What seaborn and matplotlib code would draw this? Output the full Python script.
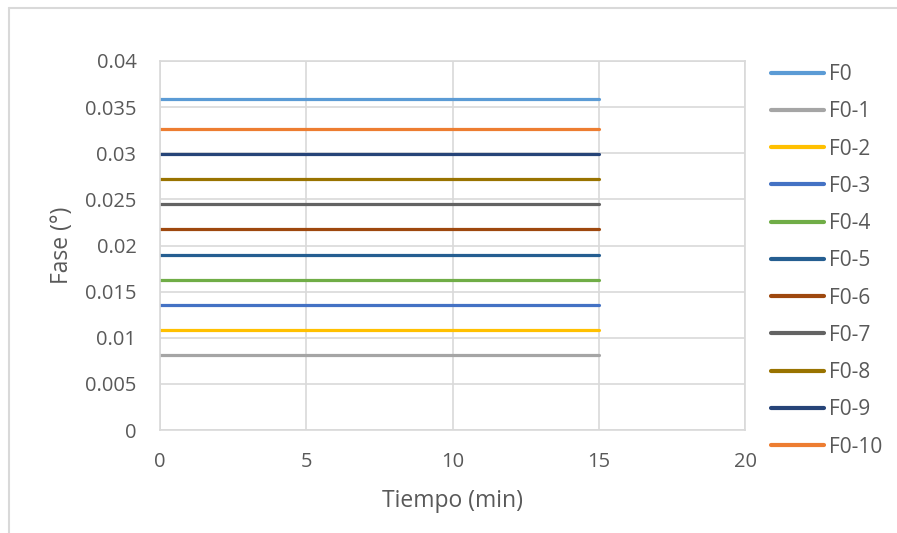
import matplotlib
matplotlib.use("Agg")
import matplotlib.pyplot as plt
from matplotlib.lines import Line2D
from matplotlib.ticker import FuncFormatter, MultipleLocator
import seaborn as sns
import pandas as pd

# Phase readings over time for each sample
tiempo = [0, 5, 10, 15]
series = ["F0", "F0-1", "F0-2", "F0-3", "F0-4", "F0-5",
          "F0-6", "F0-7", "F0-8", "F0-9", "F0-10"]
fase = {
    "F0":    [0.03588, 0.03588, 0.03588, 0.03588],
    "F0-1":  [0.00813, 0.00813, 0.00813, 0.00813],
    "F0-2":  [0.01084, 0.01084, 0.01084, 0.01084],
    "F0-3":  [0.01355, 0.01355, 0.01355, 0.01355],
    "F0-4":  [0.01626, 0.01626, 0.01626, 0.01626],
    "F0-5":  [0.01897, 0.01897, 0.01897, 0.01897],
    "F0-6":  [0.02179, 0.02179, 0.02179, 0.02179],
    "F0-7":  [0.02450, 0.02450, 0.02450, 0.02450],
    "F0-8":  [0.02720, 0.02720, 0.02720, 0.02720],
    "F0-9":  [0.02990, 0.02990, 0.02990, 0.02990],
    "F0-10": [0.03263, 0.03263, 0.03263, 0.03263],
}
colores = ["#5B9BD5", "#A5A5A5", "#FFC000", "#4472C4", "#70AD47", "#255E91",
           "#9E480E", "#636363", "#997300", "#264478", "#ED7D31"]

df = pd.DataFrame(
    [(t, s, v) for s in series for t, v in zip(tiempo, fase[s])],
    columns=["Tiempo", "Serie", "Fase"],
)

sns.set_theme(style="white")
plt.rcParams["font.family"] = ["Open Sans", "DejaVu Sans"]
txt = "#595959"
grid_c = "#D9D9D9"

fig = plt.figure(figsize=(8.97, 5.33), dpi=100)
ax = fig.add_axes([160 / 897, 1 - 430 / 533, 585 / 897, 369 / 533])

sns.lineplot(data=df, x="Tiempo", y="Fase", hue="Serie", hue_order=series,
             palette=colores, linewidth=2.3, legend=False, ax=ax)

ax.set_xlim(0, 20)
ax.set_ylim(0, 0.04)
ax.xaxis.set_major_locator(MultipleLocator(5))
ax.yaxis.set_major_locator(MultipleLocator(0.005))
ax.yaxis.set_major_formatter(FuncFormatter(lambda v, p: f"{round(v, 4):g}"))
ax.grid(True, color=grid_c, linewidth=1.2)
ax.set_axisbelow(True)
for sp in ax.spines.values():
    sp.set_color(grid_c)
    sp.set_linewidth(1.2)
ax.tick_params(axis="both", length=0, labelsize=14.5, labelcolor=txt)
ax.tick_params(axis="x", pad=16)
ax.tick_params(axis="y", pad=17)

ax.set_xlabel("Tiempo (min)", fontsize=16.5, color=txt)
ax.set_ylabel("Fase (°)", fontsize=16.5, color=txt)
ax.xaxis.set_label_coords(0.5, -0.16)
ax.yaxis.set_label_coords(-0.147, 0.5)

handles = [Line2D([], [], color=c, linewidth=3) for c in colores]
leg = fig.legend(handles, series, loc="upper left",
                 bbox_to_anchor=(771 / 897, 1 - 64 / 533),
                 frameon=False, fontsize=15, borderpad=0.0,
                 handlelength=2.55, handletextpad=0.25, labelspacing=0.78,
                 borderaxespad=0.0)
for t in leg.get_texts():
    t.set_color(txt)

# chart-area outline
fig.add_artist(Line2D([9 / 897, 1], [1 - 8 / 533] * 2, color=grid_c, lw=1.5,
                      transform=fig.transFigure))
fig.add_artist(Line2D([9 / 897] * 2, [0, 1 - 8 / 533], color=grid_c, lw=1.5,
                      transform=fig.transFigure))

fig.savefig("out.png", dpi=100, facecolor="white")
